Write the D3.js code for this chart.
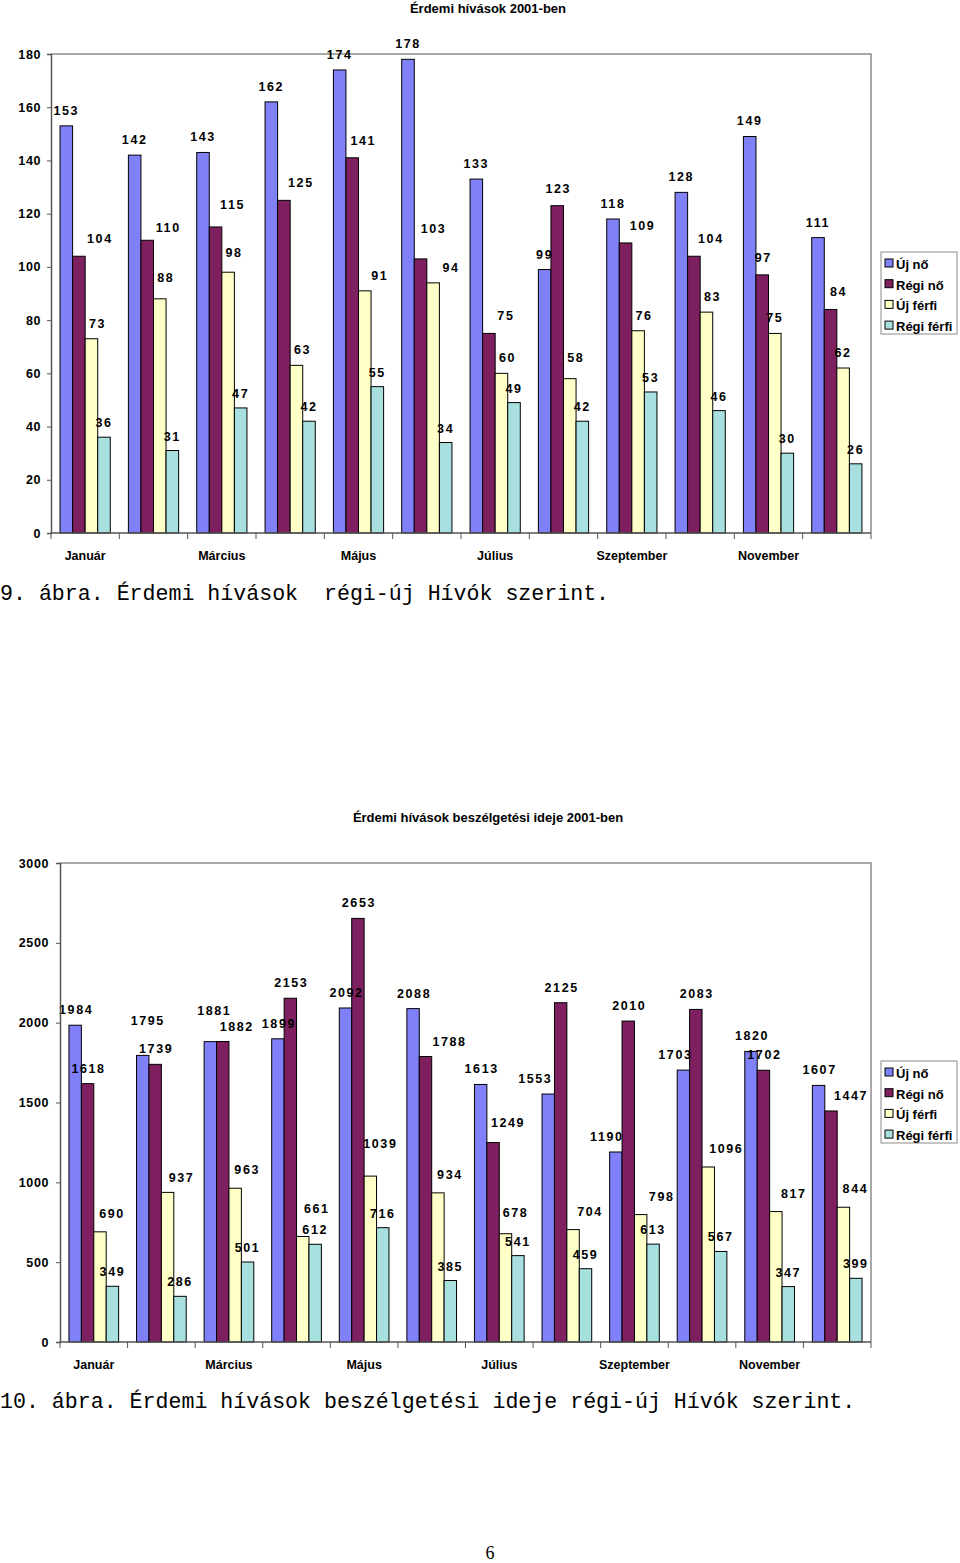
<!DOCTYPE html>
<html>
<head>
<meta charset="utf-8">
<script src="https://cdn.jsdelivr.net/npm/d3@7"></script>
<style>
  html, body { margin: 0; padding: 0; background: #fff; }
  svg { display: block; }
  .t { font-family: "Liberation Sans", Arial, sans-serif; font-weight: bold; fill: #000; }
  .cap { font-family: "Liberation Mono", "Courier New", monospace; fill: #000; }
</style>
</head>
<body>
<svg id="page" width="960" height="1563"></svg>
<script>
// ---------- DATA ----------
const months = ["Január","Február","Március","Április","Május","Június","Július","Augusztus","Szeptember","Október","November","December"];
const monthLabels = ["Január","","Március","","Május","","Július","","Szeptember","","November",""];
const seriesNames = ["Új nő","Régi nő","Új férfi","Régi férfi"];

// Chart 1: Érdemi hívások 2001-ben
const calls_ujNo     = [153,142,143,162,174,178,133, 99,118,128,149,111];
const calls_regiNo   = [104,110,115,125,141,103, 75,123,109,104, 97, 84];
const calls_ujFerfi  = [ 73, 88, 98, 63, 91, 94, 60, 58, 76, 83, 75, 62];
const calls_regiFerfi= [ 36, 31, 47, 42, 55, 34, 49, 42, 53, 46, 30, 26];
const calls_ticks    = [0,20,40,60,80,100,120,140,160,180];

// Chart 2: Érdemi hívások beszélgetési ideje 2001-ben
const time_ujNo      = [1984,1795,1881,1899,2092,2088,1613,1553,1190,1703,1820,1607];
const time_regiNo    = [1618,1739,1882,2153,2653,1788,1249,2125,2010,2083,1702,1447];
const time_ujFerfi   = [ 690, 937, 963, 661,1039, 934, 678, 704, 798,1096, 817, 844];
const time_regiFerfi = [ 349, 286, 501, 612, 716, 385, 541, 459, 613, 567, 347, 399];
const time_ticks     = [0,500,1000,1500,2000,2500,3000];

// ---------- STYLE ----------
const colors = ["#8080f8","#7e2060","#ffffc8","#a8e0e0"];
// label nudges (month index, series index) -> [dx, dy], mimicking the reference's label placement
const nudges1 = {
  "0,1":[4,0], "1,1":[4,5], "1,2":[0,-6], "2,1":[0,-5], "2,2":[0,-4],
  "4,1":[-6,0], "4,2":[9,0], "5,1":[-4,-13], "5,2":[12,0],
  "7,1":[-16,0], "7,2":[0,-6], "10,1":[-16,0], "10,2":[-6,0], "11,1":[-9,0], "11,2":[-6,0]
};
const nudges2 = {
  "1,0":[4,-19], "1,2":[2,4], "2,0":[3,-16], "2,1":[13,0], "3,2":[2,-9], "4,2":[-2,-14],
  "5,1":[23,0], "6,1":[14,-5], "6,2":[-2,-3], "7,0":[-14,0], "7,2":[5,0],
  "8,0":[-10,0], "8,2":[9,0], "9,0":[-9,0], "9,2":[6,0], "10,2":[6,0], "11,1":[19,0]
};

const svg = d3.select("#page");

function drawChart(o) {
  const g = svg.append("g");
  const series = o.values.map((v, i) => ({ name: seriesNames[i], values: v, i }));
  const x0 = d3.scaleBand().domain(months).range([o.left, o.right]).padding(0);
  const bw = x0.bandwidth();
  const groupW = bw * 0.735;
  const x1 = d3.scaleBand().domain(d3.range(4)).range([(bw - groupW) / 2, (bw + groupW) / 2]).padding(0);
  const y = d3.scaleLinear().domain([0, o.max]).range([o.bottom, o.top]);

  // title
  g.append("text").attr("class", "t").attr("x", o.titleX).attr("y", o.titleY)
    .attr("text-anchor", "middle").style("font-size", "13px").text(o.title);

  // frame (top & right)
  g.append("path").attr("d", `M${o.left},${o.top}H${o.right}V${o.bottom}`)
    .attr("fill", "none").attr("stroke", "#8c8c8c").attr("stroke-width", 1.5);

  // bars
  const grp = g.selectAll("g.m").data(months).join("g")
    .attr("transform", d => `translate(${x0(d)},0)`);
  grp.selectAll("rect").data((m, mi) => series.map(s => ({ s: s.i, m: mi, v: s.values[mi] })))
    .join("rect")
    .attr("x", d => x1(d.s)).attr("width", x1.bandwidth())
    .attr("y", d => y(d.v)).attr("height", d => y(0) - y(d.v))
    .attr("fill", d => colors[d.s]).attr("stroke", "#000").attr("stroke-width", 1);

  // y axis
  const ya = d3.axisLeft(y).tickValues(o.ticks).tickFormat(d3.format("d")).tickSize(4).tickPadding(7);
  const yg = g.append("g").attr("transform", `translate(${o.left},0)`).call(ya);
  yg.select(".domain").attr("stroke", "#555").attr("stroke-width", 1.5);
  yg.selectAll(".tick line").attr("stroke", "#555");
  yg.selectAll(".tick text").attr("class", "t").style("font-size", "12.5px")
    .style("letter-spacing", "0.6px").attr("dx", o.yLabelDx);

  // x axis
  const xa = g.append("g").attr("transform", `translate(0,${o.bottom})`);
  xa.append("line").attr("x1", o.left).attr("x2", o.right).attr("stroke", "#555").attr("stroke-width", 1.5);
  xa.selectAll("line.tk").data(d3.range(13)).join("line").attr("class", "tk")
    .attr("x1", i => o.left + i * bw).attr("x2", i => o.left + i * bw)
    .attr("y1", 0).attr("y2", 6).attr("stroke", "#555");
  xa.selectAll("text").data(months).join("text").attr("class", "t")
    .attr("x", d => x0(d) + bw / 2).attr("y", 27).attr("text-anchor", "middle")
    .style("font-size", "12.5px").text((d, i) => monthLabels[i]);

  // data labels
  const nd = d => o.nudges[d.m + "," + d.s] || [0, 0];
  grp.selectAll("text.v").data((m, mi) => series.map(s => ({ s: s.i, m: mi, v: s.values[mi] })))
    .join("text").attr("class", "t v")
    .attr("x", d => x1(d.s) + x1.bandwidth() / 2 + o.labelDx[d.s] + nd(d)[0])
    .attr("y", d => y(d.v) - o.labelDy[d.s] + nd(d)[1])
    .attr("text-anchor", "middle").style("font-size", "12.5px").style("letter-spacing", "1.6px")
    .text(d => d.v);

  // legend
  const lg = g.append("g");
  lg.append("rect").attr("x", 881).attr("y", o.legendY).attr("width", 76).attr("height", 82)
    .attr("fill", "#fff").attr("stroke", "#8c8c8c").attr("stroke-width", 1);
  seriesNames.forEach((n, i) => {
    const yy = o.legendY + 12 + i * 20.7;
    lg.append("rect").attr("x", 885).attr("y", yy - 5).attr("width", 8).attr("height", 8)
      .attr("fill", colors[i]).attr("stroke", "#000");
    lg.append("text").attr("class", "t").attr("x", 896).attr("y", yy + 5)
      .style("font-size", "13px").text(n);
  });

  // caption
  svg.append("text").attr("class", "cap").attr("x", 0).attr("y", o.capY)
    .style("font-size", "21.6px").attr("xml:space", "preserve").style("white-space", "pre").text(o.caption);
}

drawChart({
  values: [calls_ujNo, calls_regiNo, calls_ujFerfi, calls_regiFerfi],
  ticks: calls_ticks, max: 180,
  left: 51, right: 871, top: 54, bottom: 533,
  title: "Érdemi hívások 2001-ben", titleX: 488, titleY: 13,
  labelDx: [0, 17, 6, 0], labelDy: [11, 13, 11, 10], nudges: nudges1,
  yLabelDx: 1,
  legendY: 252,
  caption: "9. ábra. Érdemi hívások  régi-új Hívók szerint.", capY: 600
});

drawChart({
  values: [time_ujNo, time_regiNo, time_ujFerfi, time_regiFerfi],
  ticks: time_ticks, max: 3000,
  left: 60, right: 871, top: 863, bottom: 1342,
  title: "Érdemi hívások beszélgetési ideje 2001-ben", titleX: 488, titleY: 822,
  labelDx: [1, 1, 12, 0], labelDy: [11, 11, 14, 10], nudges: nudges2,
  yLabelDx: 0,
  legendY: 1061,
  caption: "10. ábra. Érdemi hívások beszélgetési ideje régi-új Hívók szerint.", capY: 1408
});

svg.append("text").attr("x", 490).attr("y", 1559).attr("text-anchor", "middle")
  .style("font-family", "'Liberation Serif', 'Times New Roman', serif").style("font-size", "18px").text("6");
</script>
</body>
</html>
